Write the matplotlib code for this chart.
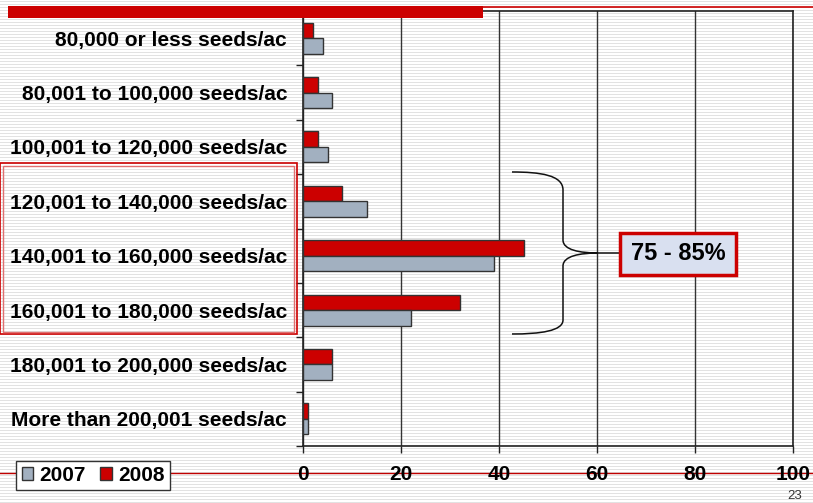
import numpy as np
import matplotlib
matplotlib.use("Agg")
from matplotlib import pyplot as plt
from matplotlib.patches import Rectangle, Patch, PathPatch
from matplotlib.path import Path
from matplotlib.lines import Line2D

plt.rcParams['font.family'] = ['Liberation Sans', 'DejaVu Sans']

# data
categories = [
    '80,000 or less seeds/ac',
    '80,001 to 100,000 seeds/ac',
    '100,001 to 120,000 seeds/ac',
    '120,001 to 140,000 seeds/ac',
    '140,001 to 160,000 seeds/ac',
    '160,001 to 180,000 seeds/ac',
    '180,001 to 200,000 seeds/ac',
    'More than 200,001 seeds/ac',
]
values_2007 = [4, 6, 5, 13, 39, 22, 6, 1]
values_2008 = [2, 3, 3, 8, 45, 32, 6, 1]
series_labels = ['2007', '2008']
x_ticks = [0, 20, 40, 60, 80, 100]
callout_text = '75 - 85%'
page_number = '23'

RED = '#CC0000'
GRAY = '#A2B0C0'
W, H = 813, 503


def px(x, y):
    """pixel position (from top left) -> figure fraction"""
    return x / W, 1 - y / H


fig = plt.figure(figsize=(W / 100, H / 100), dpi=100)

# striped slide background
bg = fig.add_axes([0, 0, 1, 1], zorder=-10)
stripes = np.ones((H, 1, 3))
stripes[1::3] = 0.89
bg.imshow(stripes, aspect='auto', interpolation='nearest', extent=(0, 1, 0, 1))
bg.set_axis_off()

# slide decorations
fig.add_artist(Rectangle(px(8, 17.7), (483 - 8) / W, 11.7 / H,
                         transform=fig.transFigure, facecolor=RED, edgecolor='none', zorder=1))
fig.add_artist(Line2D([483 / W, 1], [1 - 6.5 / H] * 2, transform=fig.transFigure,
                      color=RED, lw=1.2, zorder=1))
fig.add_artist(Line2D([0, 1], [1 - 473 / H] * 2, transform=fig.transFigure,
                      color='#C00000', lw=1, zorder=0))

# main chart
left, right, top, bottom = 303, 793, 11, 446
ax = fig.add_axes([left / W, 1 - bottom / H, (right - left) / W, (bottom - top) / H])
ax.set_facecolor('none')

y = np.arange(len(categories))
h = 0.285
ax.barh(y - h / 2, values_2008, height=h, color=RED, edgecolor='#333333', lw=1, zorder=3)
ax.barh(y + h / 2, values_2007, height=h, color=GRAY, edgecolor='#333333', lw=1, zorder=3)

ax.set_ylim(len(categories) - 0.5, -0.5)
ax.set_xlim(0, 100)
ax.set_xticks(x_ticks)
ax.set_xticklabels([str(t) for t in x_ticks], fontsize=15, fontweight='bold')
ax.set_yticks(y)
ax.set_yticklabels(categories, fontsize=15, fontweight='bold')
ax.set_yticks(np.arange(len(categories) + 1) - 0.5, minor=True)
ax.tick_params(axis='y', which='major', length=0, pad=11.5)
ax.tick_params(axis='y', which='minor', length=5, width=1, color='#222222')
ax.tick_params(axis='x', which='major', length=5, width=1, color='#222222', pad=8.5)
ax.xaxis.grid(True, color='#333333', lw=1)
ax.set_axisbelow(True)
for s in ax.spines.values():
    s.set_color('#222222')
    s.set_linewidth(1.2)

# red double box around the dominant categories
fig.add_artist(Rectangle(px(0, 334), 297 / W, (334 - 163) / H, transform=fig.transFigure,
                         facecolor='none', edgecolor=RED, lw=1.2, zorder=5))
fig.add_artist(Rectangle(px(2.5, 331.5), (294 - 2.5) / W, (331.5 - 165.5) / H,
                         transform=fig.transFigure, facecolor='none', edgecolor='#E07070',
                         lw=1, zorder=5))

# curly brace
brace = [
    (512, 172), (540, 172), (563, 175), (563, 190),
    (563, 240),
    (563, 250), (580, 253), (598, 253),
    (580, 253), (563, 256), (563, 266),
    (563, 320),
    (563, 331), (540, 334), (512, 334),
]
codes = [Path.MOVETO, Path.CURVE4, Path.CURVE4, Path.CURVE4, Path.LINETO,
         Path.CURVE4, Path.CURVE4, Path.CURVE4, Path.CURVE4, Path.CURVE4, Path.CURVE4,
         Path.LINETO, Path.CURVE4, Path.CURVE4, Path.CURVE4]
fig.add_artist(PathPatch(Path([px(a, b) for a, b in brace], codes), transform=fig.transFigure,
                         facecolor='none', edgecolor='#111111', lw=1.1, zorder=6))
fig.add_artist(Line2D([598 / W, 619 / W], [1 - 253 / H] * 2, transform=fig.transFigure,
                      color='#111111', lw=1.1, zorder=6))

# callout box
fig.add_artist(Rectangle(px(620, 274.5), 116 / W, 41 / H, transform=fig.transFigure,
                         facecolor='#D9E0F0', edgecolor=RED, lw=2.5, zorder=7))
fig.text(*px(678, 254), callout_text, ha='center', va='center', fontsize=17,
         fontweight='bold', zorder=8)

# legend
handles = [Patch(facecolor=GRAY, edgecolor='#333333'), Patch(facecolor=RED, edgecolor='#333333')]
leg = fig.legend(handles, series_labels, ncol=2, loc='center',
                 bbox_to_anchor=px(93, 475.5), frameon=True, fancybox=False,
                 edgecolor='#333333', framealpha=1, handlelength=0.55, handleheight=0.55,
                 handletextpad=0.3, columnspacing=0.7, borderpad=0.25,
                 prop={'weight': 'bold', 'size': 15})
leg.get_frame().set_linewidth(1)

fig.text(*px(795, 496), page_number, ha='center', va='center', fontsize=9.5, color='#333333')

fig.savefig('out.png', dpi=100)
